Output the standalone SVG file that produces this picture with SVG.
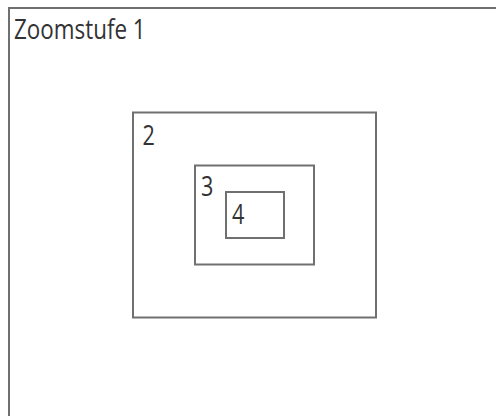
<svg xmlns="http://www.w3.org/2000/svg" width="496" height="416" viewBox="0 0 496 416">
<style>
.box{fill:none;stroke:#707070;stroke-width:2}
.lbl{font-family:"Open Sans","Noto Sans",sans-serif;font-size:27px;fill:#333333}
</style>
<rect width="496" height="416" fill="#ffffff"/>
<g id="zoom1"><rect class="box" x="9" y="8" width="500" height="420"/><text class="lbl" transform="translate(14,39) scale(0.83,1)">Zoomstufe 1</text></g>
<g id="zoom2"><rect class="box" x="133" y="112.5" width="243" height="205"/><text class="lbl" transform="translate(142.5,144.5) scale(0.8,1)">2</text></g>
<g id="zoom3"><rect class="box" x="195" y="165.5" width="119" height="99"/><text class="lbl" transform="translate(201,195.5) scale(0.8,1)">3</text></g>
<g id="zoom4"><rect class="box" x="226" y="192" width="58" height="46"/><text class="lbl" transform="translate(232,223.5) scale(0.8,1)">4</text></g>
<g id="connectors"/>
</svg>
